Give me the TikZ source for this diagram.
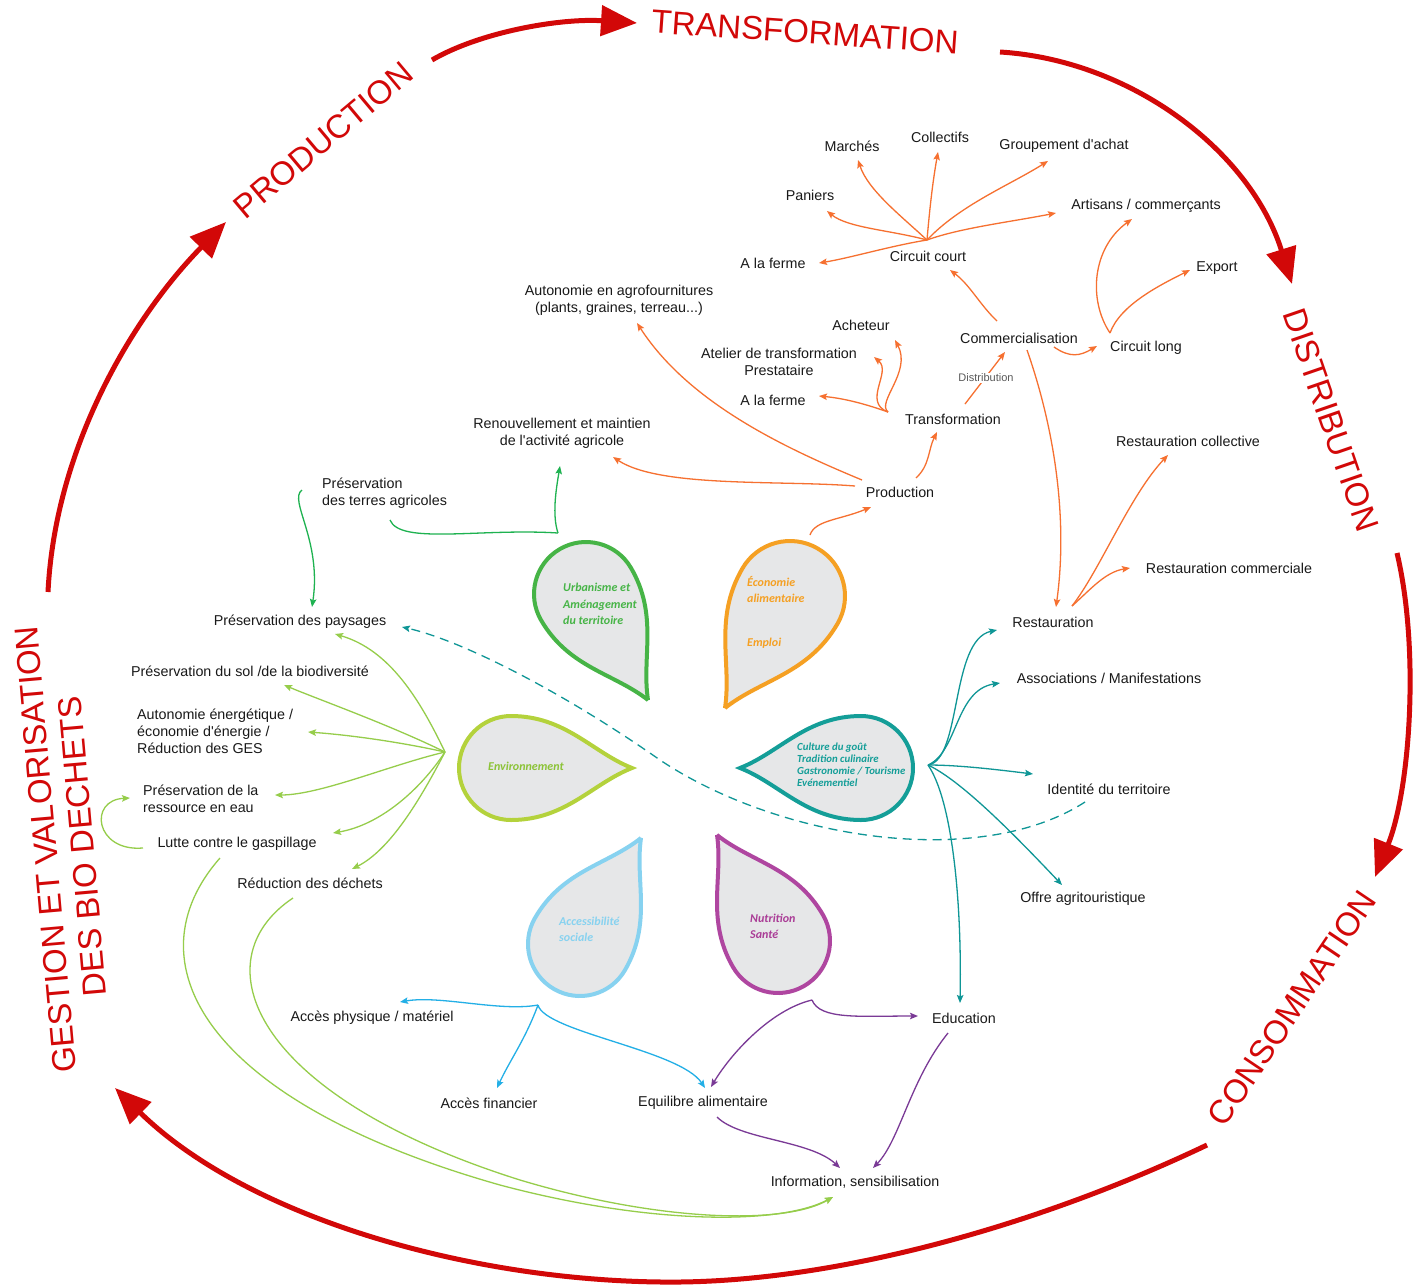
\documentclass[tikz,border=0pt]{standalone}
\usepackage{fontspec}
\setmainfont{Liberation Sans}
\newfontfamily\petalfont{Carlito}
\usetikzlibrary{arrows.meta}
\definecolor{redc}{RGB}{210,8,8}
\definecolor{orc}{RGB}{246,112,48}
\definecolor{grc}{RGB}{30,178,80}
\definecolor{lgc}{RGB}{150,205,75}
\definecolor{tec}{RGB}{15,150,150}
\definecolor{blc}{RGB}{35,175,230}
\definecolor{puc}{RGB}{122,58,150}
\definecolor{pUrb}{RGB}{70,180,70}
\definecolor{pEco}{RGB}{245,160,35}
\definecolor{pEnv}{RGB}{180,210,60}
\definecolor{pCul}{RGB}{20,158,152}
\definecolor{pAcc}{RGB}{135,210,240}
\definecolor{pNut}{RGB}{175,70,160}
\definecolor{pfill}{RGB}{230,231,232}
\definecolor{tEnv}{RGB}{140,195,55}
\definecolor{tNut}{RGB}{170,60,150}
\newcommand\petal[6]{%
 \pgfmathsetmacro\pdx{#4-(#1)}%
 \pgfmathsetmacro\pdy{#5-(#2)}%
 \pgfmathsetmacro\pd{veclen(\pdx,\pdy)}%
 \pgfmathsetmacro\pang{atan2(-\pdy,\pdx)}%
 \pgfmathsetmacro\pax{0.45*\pd}%
 \pgfmathsetmacro\pbx{\pd-0.329*\pd}%
 \pgfmathsetmacro\pby{0.13*\pd}%
 \begin{scope}[shift={(#1,#2)},rotate=\pang]
 \draw[draw=#6,fill=pfill,line width=4pt,miter limit=3] (\pd,0) .. controls (\pbx,\pby) and (\pax,#3) .. (0,#3) arc[start angle=90,end angle=270,radius=#3] .. controls (\pax,-#3) and (\pbx,-\pby) .. cycle;
 \end{scope}}
\tikzset{
 lab/.style={font=\fontsize{14.3}{17.2}\selectfont, inner sep=0pt, text=black!90},
 redtxt/.style={font=\fontsize{33}{37}\selectfont, inner sep=0pt, text=redc},
 redarr/.style={draw=redc, line width=5pt, -{Triangle[length=36pt,width=30pt]}},
 ptxt/.style={font=\petalfont\bfseries\itshape\fontsize{12}{16.5}\selectfont, inner sep=0pt, align=left},
 ptxts/.style={font=\petalfont\bfseries\itshape\fontsize{10.8}{12}\selectfont, inner sep=0pt, align=left},
 conn/.style={line width=1.3pt, -{Stealth[length=8pt,width=6.5pt,inset=1.5pt]}},
 oc/.style={conn, draw=orc},
 gc/.style={conn, draw=grc},
 lc/.style={conn, draw=lgc},
 tc/.style={conn, draw=tec},
 bc/.style={conn, draw=blc},
 pc/.style={conn, draw=puc},
}
\begin{document}
\begin{tikzpicture}[x=1pt,y=-1pt]
\useasboundingbox[fill=white] (0,0) rectangle (1425,1286);

% ---------- petals ----------
\petal{586}{594}{52}{648}{700}{pUrb}
\petal{790}{596}{55}{725}{708}{pEco}
\petal{511}{768}{52}{632}{768}{pEnv}
\petal{861}{768}{52}{740}{768}{pCul}
\petal{580}{944}{52}{641}{838}{pAcc}
\petal{778}{941}{52}{717}{835}{pNut}

\node[ptxt,anchor=west,text=pUrb] (turb) at (563,604) {Urbanisme et\\Aménagement\\du territoire};
\node[ptxt,anchor=west,text=pEco] (teco) at (747,589.5) {Économie\\alimentaire};
\node[ptxt,anchor=west,text=pEco] (temp) at (747,643) {Emploi};
\node[ptxt,text=tEnv] (tenv) at (526,766) {Environnement};
\node[ptxts,anchor=west,text=pCul] (tcul) at (797,765) {Culture du goût\\Tradition culinaire\\Gastronomie / Tourisme\\Evénementiel};
\node[ptxt,anchor=west,text=pAcc] (tacc) at (559,929.5) {Accessibilité\\sociale};
\node[ptxt,anchor=west,text=tNut] (tnut) at (750,926.5) {Nutrition\\Santé};

% ---------- red cycle ----------
\node[redtxt,rotate=-4] (rtransf) at (805,32) {TRANSFORMATION};
\node[redtxt,rotate=40] (rprod) at (323,140) {PRODUCTION};
\node[redtxt,rotate=-71] (rdist) at (1331,420) {DISTRIBUTION};
\node[redtxt,rotate=56] (rcons) at (1292,1008) {CONSOMMATION};
\node[redtxt,rotate=95,align=center] (rgest) at (64,848) {GESTION ET VALORISATION\\DES BIO DECHETS};

\coordinate (r1s) at (48,592); \coordinate (r1e) at (226,222);
\coordinate (r2s) at (432,60); \coordinate (r2e) at (637,23);
\coordinate (r3s) at (1000,52); \coordinate (r3e) at (1292,284);
\coordinate (r4s) at (1397,553); \coordinate (r4e) at (1375,877);
\coordinate (r5s) at (1207,1145); \coordinate (r5e) at (115,1088);
\draw[redarr] (r1s) .. controls (55,450) and (130,320) .. (r1e);
\draw[redarr] (r2s) .. controls (480,32) and (560,18) .. (r2e);
\draw[redarr] (r3s) .. controls (1130,60) and (1250,150) .. (r3e);
\draw[redarr] (r4s) .. controls (1420,650) and (1410,790) .. (r4e);
\draw[redarr] (r5s) .. controls (1050,1220) and (850,1280) .. (680,1282) .. controls (480,1284) and (250,1220) .. (r5e);

% ---------- labels ----------
\node[lab] (marches) at (852,146) {Marchés};
\node[lab] (collectifs) at (940,137) {Collectifs};
\node[lab] (groupement) at (1064,146) {Groupement d\textquotesingle{}achat};
\node[lab] (paniers) at (810,195) {Paniers};
\node[lab] (artisans) at (1146,206) {Artisans / commerçants};
\node[lab] (ferme1) at (773,263) {A la ferme};
\node[lab] (ccourt) at (928,256) {Circuit court};
\node[lab] (export) at (1217,268) {Export};
\node[lab,align=center] (autoagro) at (619,300) {Autonomie en agrofournitures\\(plants, graines, terreau...)};
\node[lab] (acheteur) at (861,325) {Acheteur};
\node[lab] (commerc) at (1019,338) {Commercialisation};
\node[lab] (clong) at (1146,348) {Circuit long};
\node[lab,align=center] (atelier) at (779,362) {Atelier de transformation\\Prestataire};
\node[lab] (ferme2) at (773,400) {A la ferme};
\node[lab] (transf) at (953,419) {Transformation};
\node[lab,align=center] (renouv) at (562,433) {Renouvellement et maintien\\de l\textquotesingle{}activité agricole};
\node[lab] (restcoll) at (1188,441) {Restauration collective};
\node[lab] (prod) at (900,492) {Production};
\node[lab,align=left,anchor=west] (terres) at (322,493) {Préservation\\des terres agricoles};
\node[lab] (restcomm) at (1229,568) {Restauration commerciale};
\node[lab] (paysages) at (300,622) {Préservation des paysages};
\node[lab] (resto) at (1053,622) {Restauration};
\node[lab] (sol) at (250,671) {Préservation du sol /de la biodiversité};
\node[lab] (assoc) at (1109,678) {Associations / Manifestations};
\node[lab,align=left,anchor=west] (energie) at (137,731) {Autonomie énergétique /\\économie d\textquotesingle{}énergie /\\Réduction des GES};
\node[lab,align=left,anchor=west] (eau) at (143,799) {Préservation de la\\ressource en eau};
\node[lab] (identite) at (1109,789) {Identité du territoire};
\node[lab] (gaspi) at (237,844) {Lutte contre le gaspillage};
\node[lab] (dechets) at (310,883) {Réduction des déchets};
\node[lab] (offre) at (1083,899) {Offre agritouristique};
\node[lab] (physique) at (372,1018) {Accès physique / matériel};
\node[lab] (educ) at (964,1018) {Education};
\node[lab] (financier) at (489,1103) {Accès financier};
\node[lab] (equilibre) at (703,1103) {Equilibre alimentaire};
\node[lab] (info) at (855,1182) {Information, sensibilisation};

% ---------- hubs / ends ----------
\coordinate (hcc) at (927,240);
\coordinate (htr) at (888,412);
\coordinate (hurb) at (558,533);
\coordinate (henv) at (445,752);
\coordinate (hcul) at (928,765);
\coordinate (hacc) at (538,1005);
\coordinate (hnut) at (812,1000);

% orange
\coordinate (aMar) at (858,160); \coordinate (aCol) at (938,152);
\coordinate (aGrp) at (1048,161); \coordinate (aPan) at (827,211);
\coordinate (aArt) at (1056,213); \coordinate (aFe1) at (819,263);
\coordinate (aCC) at (950,270); \coordinate (aArt2) at (1132,219);
\coordinate (aExp) at (1190,270); \coordinate (aCL) at (1097,346);
\coordinate (aRes) at (1056,607); \coordinate (aCom) at (1005,352);
\coordinate (aFe2) at (819,396); \coordinate (aAte) at (874,357);
\coordinate (aAch) at (895,340); \coordinate (aAuto) at (637,323);
\coordinate (aRen) at (613,457); \coordinate (aTr) at (937,432);
\coordinate (aProd) at (871,507); \coordinate (aRcol) at (1168,455);
\coordinate (aRcom) at (1130,568);
\coordinate (sCom1) at (997,321); \coordinate (sCL) at (1110,333);
\coordinate (sCom2) at (1054,347); \coordinate (sCom3) at (1027,350);
\coordinate (sTr) at (965,404); \coordinate (sProd1) at (862,480);
\coordinate (sProd2) at (855,486); \coordinate (sProd3) at (916,478);
\coordinate (sEco) at (810,535); \coordinate (sRes) at (1072,606);

\draw[oc] (hcc) .. controls (900,215) and (868,190) .. (aMar);
\draw[oc] (hcc) .. controls (930,205) and (933,180) .. (aCol);
\draw[oc] (hcc) .. controls (960,205) and (1010,185) .. (aGrp);
\draw[oc] (hcc) .. controls (890,230) and (848,228) .. (aPan);
\draw[oc] (hcc) .. controls (960,228) and (1010,222) .. (aArt);
\draw[oc] (hcc) .. controls (890,246) and (850,258) .. (aFe1);
\draw[oc] (sCom1) .. controls (980,305) and (970,285) .. (aCC);
\draw[oc] (sCL) .. controls (1088,300) and (1092,248) .. (aArt2);
\draw[oc] (sCL) .. controls (1120,305) and (1160,285) .. (aExp);
\draw[oc] (sCom2) .. controls (1070,358) and (1080,356) .. (aCL);
\draw[oc] (sCom3) .. controls (1055,430) and (1068,520) .. (aRes);
\draw[oc] (sTr) -- (aCom);
\node[font=\fontsize{11}{13}\selectfont, text=black!65, fill=white, inner sep=1pt] (distr) at (986,378) {Distribution};
\draw[oc] (htr) .. controls (860,402) and (840,398) .. (aFe2);
\draw[oc] (htr) .. controls (862,402) and (892,372) .. (aAte);
\draw[oc] (htr) .. controls (876,402) and (912,372) .. (aAch);
\draw[oc] (sProd1) .. controls (790,450) and (690,405) .. (aAuto);
\draw[oc] (sProd2) .. controls (780,480) and (660,488) .. (aRen);
\draw[oc] (sProd3) .. controls (930,465) and (928,450) .. (aTr);
\draw[oc] (sEco) .. controls (815,520) and (840,520) .. (aProd);
\draw[oc] (sRes) .. controls (1100,570) and (1130,495) .. (aRcol);
\draw[oc] (sRes) .. controls (1090,590) and (1105,572) .. (aRcom);

% green (urbanisme)
\coordinate (sTer1) at (390,520); \coordinate (sTer2) at (302,490);
\coordinate (aRen2) at (560,466); \coordinate (aPay) at (312,607);
\draw[draw=grc,line width=1.3pt] (sTer1) .. controls (400,545) and (480,528) .. (hurb);
\draw[gc] (hurb) .. controls (552,515) and (556,490) .. (aRen2);
\draw[gc] (sTer2) .. controls (288,500) and (322,540) .. (aPay);

% light green (environnement)
\coordinate (aPay2) at (335,634); \coordinate (aSol) at (284,685);
\coordinate (aEne) at (308,732); \coordinate (aEau) at (275,795);
\coordinate (aGas) at (333,833); \coordinate (aDec) at (352,869);
\coordinate (sGas) at (143,848); \coordinate (aEau2) at (130,798);
\coordinate (sGas2) at (220,858); \coordinate (sDec) at (293,898);
\coordinate (aInfo1) at (833,1197);
\draw[lc] (henv) .. controls (420,700) and (390,650) .. (aPay2);
\draw[lc] (henv) .. controls (390,725) and (320,700) .. (aSol);
\draw[lc] (henv) .. controls (400,742) and (350,735) .. (aEne);
\draw[lc] (henv) .. controls (390,765) and (320,795) .. (aEau);
\draw[lc] (henv) .. controls (420,790) and (380,825) .. (aGas);
\draw[lc] (henv) .. controls (420,800) and (390,850) .. (aDec);
\draw[lc] (sGas) .. controls (95,852) and (88,800) .. (aEau2);
\draw[lc] (sGas2) .. controls (130,960) and (200,1100) .. (500,1185) .. controls (650,1225) and (780,1225) .. (aInfo1);
\draw[lc] (sDec) .. controls (200,960) and (250,1095) .. (520,1180) .. controls (660,1222) and (785,1225) .. (aInfo1);

% teal (culture)
\coordinate (aResto) at (997,630); \coordinate (aAsso) at (1000,683);
\coordinate (aIde) at (1033,774); \coordinate (aOff) at (1062,885);
\coordinate (aEdu) at (960,1003); \coordinate (sDash) at (1085,802);
\coordinate (aPay3) at (402,627);
\draw[tc] (hcul) .. controls (962,760) and (950,640) .. (aResto);
\draw[tc] (hcul) .. controls (958,752) and (955,690) .. (aAsso);
\draw[tc] (hcul) .. controls (960,765) and (1000,770) .. (aIde);
\draw[tc] (hcul) .. controls (960,780) and (1010,830) .. (aOff);
\draw[tc] (hcul) .. controls (952,800) and (962,900) .. (aEdu);
\draw[tc,dash pattern=on 9pt off 6pt] (sDash) .. controls (980,870) and (780,840) .. (660,760) .. controls (560,690) and (460,640) .. (aPay3);

% blue (accessibilite)
\coordinate (aPhy) at (400,1002); \coordinate (aFin) at (497,1088);
\coordinate (aEqu) at (705,1088);
\draw[bc] (hacc) .. controls (500,1012) and (440,995) .. (aPhy);
\draw[bc] (hacc) .. controls (525,1040) and (510,1060) .. (aFin);
\draw[bc] (hacc) .. controls (545,1032) and (680,1050) .. (aEqu);

% purple (nutrition)
\coordinate (aEdu2) at (918,1016); \coordinate (aEqu2) at (711,1087);
\coordinate (sEqu) at (717,1117); \coordinate (aInfo2) at (840,1168);
\coordinate (sEdu) at (948,1033); \coordinate (aInfo3) at (873,1168);
\draw[pc] (hnut) .. controls (820,1020) and (860,1016) .. (aEdu2);
\draw[pc] (hnut) .. controls (770,1010) and (730,1055) .. (aEqu2);
\draw[pc] (sEqu) .. controls (740,1140) and (810,1140) .. (aInfo2);
\draw[pc] (sEdu) .. controls (910,1080) and (900,1140) .. (aInfo3);
\end{tikzpicture}
\end{document}
